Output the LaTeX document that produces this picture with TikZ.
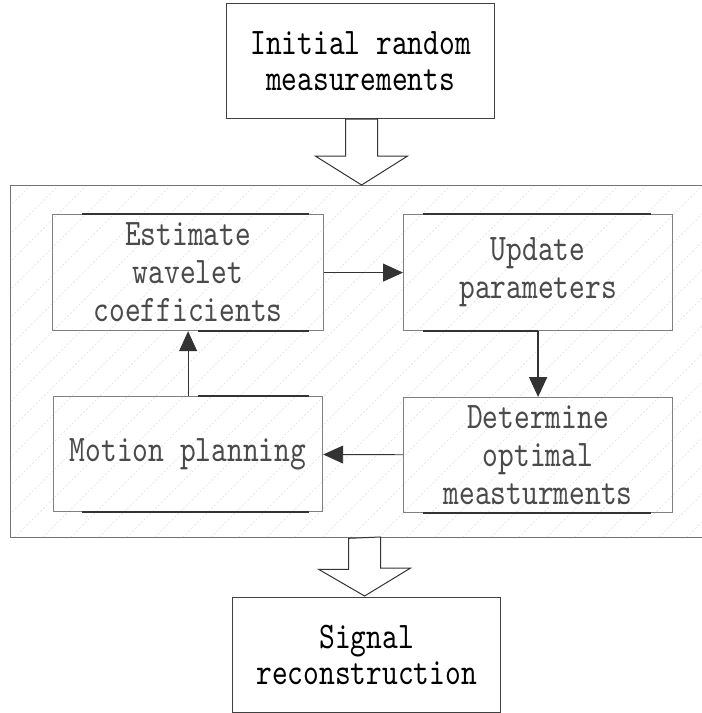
\documentclass[tikz,border=0pt]{standalone}
\usepackage{fontspec}
\newfontfamily\narrowmono{lmmono10-regular.otf}[FakeStretch=0.8]
\usetikzlibrary{arrows.meta,calc}
\definecolor{framegray}{HTML}{808080}
\definecolor{darkline}{HTML}{333333}
\definecolor{txtgray}{HTML}{4A4A4A}
\definecolor{hatchc}{HTML}{E8E8E8}
\tikzset{
 x=1pt, y=-1pt,
 box/.style={draw=framegray, line width=1.2pt, minimum width=269pt, minimum height=116pt,
   inner sep=0pt, align=center, font=\fontsize{37.5}{38}\selectfont\narrowmono, text=txtgray, anchor=north west},
 endbox/.style={draw=black!75, line width=1.2pt, minimum width=268pt, minimum height=115pt,
   inner sep=0pt, align=center, font=\fontsize{37.5}{36}\selectfont\narrowmono, text=black, anchor=north west},
 contbox/.style={draw=black!55, line width=1.3pt, minimum width=700pt, minimum height=352pt,
   inner sep=0pt, anchor=north west},
 link/.style={draw=darkline, line width=0.9pt, -{Triangle[length=20pt,width=18pt]}},
 hollow/.style={draw=black!80, line width=1pt, fill=white, line join=miter},
 shade/.style={draw=darkline, line width=1.8pt},
 hatchline/.style={draw=hatchc, line width=1pt, dash pattern=on 2pt off 2pt},
}
\begin{document}
\begin{tikzpicture}
\useasboundingbox (0,0) rectangle (702,713);
% hatch background of the container
\begin{scope}
\clip (10,185) rectangle (702,537);
\foreach \i in {-380,-352,...,1100} \draw[hatchline] (\i,540) -- ++(360,-360);
\end{scope}
\node[contbox] (cont) at (10,185) {};
% end boxes
\node[endbox] (top) at (226,3) {Initial random\\measurements};
\node[endbox] (sig) at (232,597) {Signal\\reconstruction};
% inner boxes
\node[box, minimum width=271pt] (est) at (52,214) {Estimate\\wavelet\\coefficients};
\node[box] (upd) at (403,214) {Update\\parameters};
\node[box, minimum height=115pt] (mot) at (53,396) {Motion planning};
\node[box, minimum height=115pt] (det) at (403,397) {Determine\\optimal\\measturments};
% darker edge segments
\draw[shade] ($(est.north west)+(30,0)$) -- ($(est.north east)+(-15,0)$);
\draw[shade] ($(est.south)+(10,0)$) -- ($(est.south east)+(-15,0)$);
\draw[shade] ($(upd.north west)+(20,0)$) -- ($(upd.north east)+(-22,0)$);
\draw[shade] ($(upd.south west)+(20,0)$) -- (upd.south);
\draw[shade] ($(mot.north)+(10,0)$) -- ($(mot.north east)+(-14,0)$);
\draw[shade] ($(mot.south west)+(29,0)$) -- ($(mot.south east)+(-14,0)$);
\draw[shade] ($(det.south west)+(20,0)$) -- ($(det.south east)+(-22,0)$);
% connectors
\draw[link] (est) -- (upd);
\draw[link, line width=2pt] (upd) -- (det);
\draw[link] (det) -- (mot);
\draw[link] (mot) -- (est);
% hollow block arrows
\coordinate (a1) at ($(top.south)+(1,0)$);
\draw[hollow] ($(a1)+(-16,0)$) -- ++(0,37) -- ++(-30,0) -- (a1 |- cont.north) -- ++(46,-29) -- ++(-30,0) -- ++(0,-37) -- cycle;
\coordinate (b1) at ($(sig.north)+(-2,-1)$);
\draw[hollow] ($(b1 |- cont.south)+(-16,0)$) -- ++(0,31) -- ++(-30,0) -- (b1) -- ++(46,-28) -- ++(-30,0) -- ++(0,-31) -- cycle;
\end{tikzpicture}
\end{document}
